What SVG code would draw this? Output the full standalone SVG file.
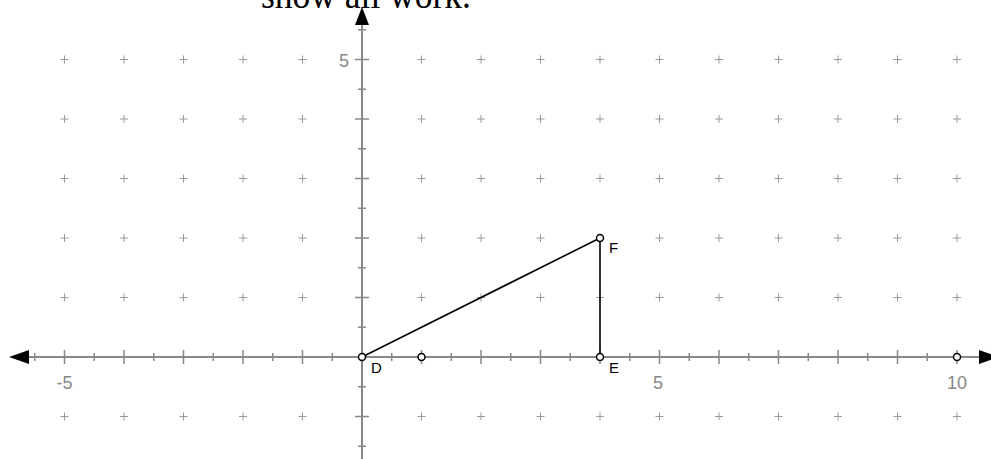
<svg xmlns="http://www.w3.org/2000/svg" width="991" height="459" viewBox="0 0 991 459">
<defs>
<style>
.grid{stroke:#9a9a9a;stroke-width:1;fill:none}
.axis{stroke:#888;stroke-width:2;fill:none}
.tick{stroke:#888;stroke-width:1.5;fill:none}
.lbl{font-family:"Liberation Sans",Arial,sans-serif;font-size:18px;fill:#888}
.name{font-family:"Liberation Sans",Arial,sans-serif;font-size:15px;fill:#000}
.seg{stroke:#000;stroke-width:1.6;fill:none}
.pt{fill:#fff;stroke:#000;stroke-width:1.5}
.arrow{fill:#000}
</style>
<path id="plus" class="grid" d="M-4,0H4M0,-4V4"/>
</defs>
<text x="261" y="8" font-family="'Liberation Serif','Times New Roman',serif" font-size="38" textLength="210" lengthAdjust="spacingAndGlyphs" fill="#000">show all work.</text>
<g id="grid">
<use href="#plus" x="64.5" y="59.5"/><use href="#plus" x="124" y="59.5"/><use href="#plus" x="183.5" y="59.5"/><use href="#plus" x="243" y="59.5"/><use href="#plus" x="302.5" y="59.5"/><use href="#plus" x="421.5" y="59.5"/><use href="#plus" x="481" y="59.5"/><use href="#plus" x="540.5" y="59.5"/><use href="#plus" x="600" y="59.5"/><use href="#plus" x="659.5" y="59.5"/><use href="#plus" x="719" y="59.5"/><use href="#plus" x="778.5" y="59.5"/><use href="#plus" x="838" y="59.5"/><use href="#plus" x="897.5" y="59.5"/><use href="#plus" x="957" y="59.5"/>
<use href="#plus" x="64.5" y="119"/><use href="#plus" x="124" y="119"/><use href="#plus" x="183.5" y="119"/><use href="#plus" x="243" y="119"/><use href="#plus" x="302.5" y="119"/><use href="#plus" x="421.5" y="119"/><use href="#plus" x="481" y="119"/><use href="#plus" x="540.5" y="119"/><use href="#plus" x="600" y="119"/><use href="#plus" x="659.5" y="119"/><use href="#plus" x="719" y="119"/><use href="#plus" x="778.5" y="119"/><use href="#plus" x="838" y="119"/><use href="#plus" x="897.5" y="119"/><use href="#plus" x="957" y="119"/>
<use href="#plus" x="64.5" y="178.5"/><use href="#plus" x="124" y="178.5"/><use href="#plus" x="183.5" y="178.5"/><use href="#plus" x="243" y="178.5"/><use href="#plus" x="302.5" y="178.5"/><use href="#plus" x="421.5" y="178.5"/><use href="#plus" x="481" y="178.5"/><use href="#plus" x="540.5" y="178.5"/><use href="#plus" x="600" y="178.5"/><use href="#plus" x="659.5" y="178.5"/><use href="#plus" x="719" y="178.5"/><use href="#plus" x="778.5" y="178.5"/><use href="#plus" x="838" y="178.5"/><use href="#plus" x="897.5" y="178.5"/><use href="#plus" x="957" y="178.5"/>
<use href="#plus" x="64.5" y="238"/><use href="#plus" x="124" y="238"/><use href="#plus" x="183.5" y="238"/><use href="#plus" x="243" y="238"/><use href="#plus" x="302.5" y="238"/><use href="#plus" x="421.5" y="238"/><use href="#plus" x="481" y="238"/><use href="#plus" x="540.5" y="238"/><use href="#plus" x="659.5" y="238"/><use href="#plus" x="719" y="238"/><use href="#plus" x="778.5" y="238"/><use href="#plus" x="838" y="238"/><use href="#plus" x="897.5" y="238"/><use href="#plus" x="957" y="238"/>
<use href="#plus" x="64.5" y="297.5"/><use href="#plus" x="124" y="297.5"/><use href="#plus" x="183.5" y="297.5"/><use href="#plus" x="243" y="297.5"/><use href="#plus" x="302.5" y="297.5"/><use href="#plus" x="421.5" y="297.5"/><use href="#plus" x="481" y="297.5"/><use href="#plus" x="540.5" y="297.5"/><use href="#plus" x="600" y="297.5"/><use href="#plus" x="659.5" y="297.5"/><use href="#plus" x="719" y="297.5"/><use href="#plus" x="778.5" y="297.5"/><use href="#plus" x="838" y="297.5"/><use href="#plus" x="897.5" y="297.5"/><use href="#plus" x="957" y="297.5"/>
<use href="#plus" x="64.5" y="416.5"/><use href="#plus" x="124" y="416.5"/><use href="#plus" x="183.5" y="416.5"/><use href="#plus" x="243" y="416.5"/><use href="#plus" x="302.5" y="416.5"/><use href="#plus" x="421.5" y="416.5"/><use href="#plus" x="481" y="416.5"/><use href="#plus" x="540.5" y="416.5"/><use href="#plus" x="600" y="416.5"/><use href="#plus" x="659.5" y="416.5"/><use href="#plus" x="719" y="416.5"/><use href="#plus" x="778.5" y="416.5"/><use href="#plus" x="838" y="416.5"/><use href="#plus" x="897.5" y="416.5"/><use href="#plus" x="957" y="416.5"/>
</g>
<g id="axes">
<path class="axis" d="M28,357H980M362,25V459"/>
<path class="tick" d="M34.75,353V361M64.5,350V364M94.25,353V361M124,350V364M153.75,353V361M183.5,350V364M213.25,353V361M243,350V364M272.75,353V361M302.5,350V364M332.25,353V361M391.75,353V361M421.5,350V364M451.25,353V361M481,350V364M510.75,353V361M540.5,350V364M570.25,353V361M600,350V364M629.75,353V361M659.5,350V364M689.25,353V361M719,350V364M748.75,353V361M778.5,350V364M808.25,353V361M838,350V364M867.75,353V361M897.5,350V364M927.25,353V361M957,350V364"/>
<path class="tick" d="M358,29.75H366M355,59.5H369M358,89.25H366M355,119H369M358,148.75H366M355,178.5H369M358,208.25H366M355,238H369M358,267.75H366M355,297.5H369M358,327.25H366M358,386.75H366M355,416.5H369M358,446.25H366"/>
<polygon class="arrow" points="9,357 29,350 29,364"/>
<polygon class="arrow" points="999,357 979,350 979,364"/>
<polygon class="arrow" points="362,7 355,25 369,25"/>
<text class="lbl" x="349" y="67" text-anchor="end">5</text>
<text class="lbl" x="64.5" y="389" text-anchor="middle">-5</text>
<text class="lbl" x="658" y="389" text-anchor="middle">5</text>
<text class="lbl" x="957" y="389" text-anchor="middle">10</text>
</g>
<g id="connectors">
<path class="seg" d="M362,357L600,238"/>
<path class="seg" d="M600,238V357"/>
</g>
<g id="D"><circle class="pt" cx="362" cy="357" r="3.5"/><text class="name" x="371" y="373">D</text></g>
<g id="P1"><circle class="pt" cx="421.5" cy="357" r="3.5"/></g>
<g id="E"><circle class="pt" cx="600" cy="357" r="3.5"/><text class="name" x="609" y="373">E</text></g>
<g id="F"><circle class="pt" cx="600" cy="238" r="3.5"/><text class="name" x="609" y="253">F</text></g>
<g id="P10"><circle class="pt" cx="957" cy="357" r="3.5"/></g>
</svg>
